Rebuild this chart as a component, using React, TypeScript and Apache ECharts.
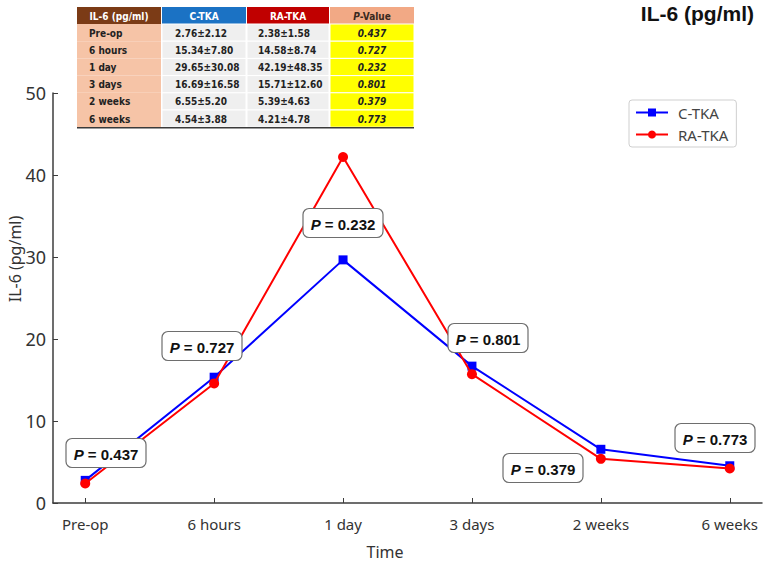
import React, { useEffect, useRef } from "react";
import * as echarts from "echarts";

// IL-6 (pg/ml) over time, mean ± SD for each group
const timePoints = ["Pre-op", "6 hours", "1 day", "3 days", "2 weeks", "6 weeks"];
const cTkaMean = [2.76, 15.34, 29.65, 16.69, 6.55, 4.54];
const cTkaSd = [2.12, 7.8, 30.08, 16.58, 5.2, 3.88];
const raTkaMean = [2.38, 14.58, 42.19, 15.71, 5.39, 4.21];
const raTkaSd = [1.58, 8.74, 48.35, 12.6, 4.63, 4.78];
const pValues = ["0.437", "0.727", "0.232", "0.801", "0.379", "0.773"];
const tableHeaders = ["IL-6 (pg/ml)", "C-TKA", "RA-TKA", "P-Value"];

// Placement of the P-value call-outs (pixel centres)
const pBoxCenters: [number, number][] = [
  [106, 453],
  [202, 346],
  [343, 223],
  [488, 338],
  [543, 468],
  [715, 438],
];

const fmt = (m: number, s: number) => `${m.toFixed(2)}±${s.toFixed(2)}`;

function buildTable(): any[] {
  const colX = [77, 162, 247, 330];
  const colW = [84, 84, 82, 84];
  const headerTop = 7;
  const headerH = 17;
  const rowTop = 24;
  const rowH = 17.2;
  const headerFill = ["#7b3b16", "#1b72c4", "#c00000", "#f2a985"];
  const bodyFill = ["#f6c4a7", "#efefef", "#efefef", "#ffff00"];
  const font = "DejaVu Sans Condensed";
  const els: any[] = [];

  // header row
  tableHeaders.forEach((h, c) => {
    els.push({
      type: "rect",
      z: 50,
      shape: { x: colX[c], y: headerTop, width: colW[c], height: headerH },
      style: { fill: headerFill[c] },
    });
    const isP = c === 3;
    els.push({
      type: "text",
      z: 51,
      x: colX[c] + colW[c] / 2,
      y: headerTop + headerH / 2 + 0.5,
      style: isP
        ? {
            text: "{i|P}-Value",
            rich: {
              i: { fontStyle: "italic", fontWeight: "bold", fontFamily: font, fontSize: 10, fill: "#3a2a20" },
            },
            fontFamily: font,
            fontWeight: "bold",
            fontSize: 10,
            fill: "#3a2a20",
            align: "center",
            verticalAlign: "middle",
          }
        : {
            text: h,
            fontFamily: font,
            fontWeight: "bold",
            fontSize: 10,
            fill: "#ffffff",
            align: "center",
            verticalAlign: "middle",
          },
    });
  });

  // body rows
  timePoints.forEach((t, r) => {
    const y = rowTop + r * rowH;
    for (let c = 0; c < 4; c++) {
      els.push({
        type: "rect",
        z: 50,
        shape: { x: colX[c], y, width: colW[c], height: rowH },
        style: { fill: bodyFill[c], stroke: c === 0 ? bodyFill[0] : "#ffffff", lineWidth: c === 0 ? 0 : 1 },
      });
    }
    const cy = y + rowH / 2 + 0.5;
    const base = { fontFamily: font, fontWeight: "bold", fontSize: 10, fill: "#222", verticalAlign: "middle" };
    els.push({ type: "text", z: 51, x: colX[0] + 12, y: cy, style: { ...base, text: t, align: "left" } });
    els.push({ type: "text", z: 51, x: colX[1] + 13, y: cy, style: { ...base, text: fmt(cTkaMean[r], cTkaSd[r]), align: "left" } });
    els.push({ type: "text", z: 51, x: colX[2] + 11, y: cy, style: { ...base, text: fmt(raTkaMean[r], raTkaSd[r]), align: "left" } });
    els.push({
      type: "text",
      z: 51,
      x: colX[3] + colW[3] / 2,
      y: cy,
      style: { ...base, text: pValues[r], fontStyle: "italic", align: "center" },
    });
  });

  // bottom rule
  const bottom = rowTop + timePoints.length * rowH + 0.5;
  els.push({
    type: "line",
    z: 52,
    shape: { x1: colX[0], y1: bottom, x2: colX[3] + colW[3], y2: bottom },
    style: { stroke: "#3a3a3a", lineWidth: 1.5 },
  });
  return els;
}

function buildPBoxes(): any[] {
  const w = 80;
  const h = 29;
  const els: any[] = [];
  pValues.forEach((p, i) => {
    const [cx, cy] = pBoxCenters[i];
    els.push({
      type: "rect",
      z: 100,
      shape: { x: cx - w / 2, y: cy - h / 2, width: w, height: h, r: 6 },
      style: { fill: "#ffffff", stroke: "#6e6e6e", lineWidth: 1.2 },
    });
    els.push({
      type: "text",
      z: 101,
      x: cx,
      y: cy + 1,
      style: {
        text: `{i|P} = ${p}`,
        rich: {
          i: { fontStyle: "italic", fontWeight: "bold", fontFamily: "Liberation Sans", fontSize: 15, fill: "#111" },
        },
        fontFamily: "Liberation Sans",
        fontWeight: "bold",
        fontSize: 15,
        fill: "#111",
        align: "center",
        verticalAlign: "middle",
      },
    });
  });
  return els;
}

export default function App() {
  const ref = useRef<HTMLDivElement>(null);

  useEffect(() => {
    if (!ref.current) return;
    const chart = echarts.init(ref.current, null, { renderer: "svg" });
    const axisColor = "#3c3c3c";
    const tickFont = "Noto Sans";

    chart.setOption({
      animation: false,
      backgroundColor: "#ffffff",
      grid: { left: 53, right: 5, top: 93, bottom: 63, containLabel: false },
      legend: {
        orient: "vertical",
        left: 629,
        top: 100,
        width: 108,
        padding: [5, 8, 5, 6],
        itemGap: 7,
        itemWidth: 32,
        itemHeight: 10,
        borderColor: "#cfcfcf",
        borderWidth: 1,
        borderRadius: 3,
        backgroundColor: "#ffffff",
        textStyle: { fontFamily: tickFont, fontSize: 15, color: "#444", padding: [0, 0, 0, 5] },
        data: ["C-TKA", "RA-TKA"],
      },
      xAxis: {
        type: "value",
        min: -0.25,
        max: 5.25,
        splitLine: { show: false },
        axisLine: { show: true, onZero: false, lineStyle: { color: axisColor, width: 1.5 } },
        axisTick: {
          show: true,
          inside: true,
          length: 5,
          customValues: timePoints.map((_, i) => i),
          lineStyle: { color: axisColor, width: 1 },
        },
        axisLabel: {
          customValues: timePoints.map((_, i) => i),
          formatter: (v: number) => timePoints[Math.round(v)] ?? "",
          fontFamily: tickFont,
          fontSize: 15,
          color: "#333",
          margin: 13,
        },
      },
      yAxis: {
        type: "value",
        min: 0,
        max: 50,
        interval: 10,
        splitLine: { show: false },
        axisLine: { show: true, onZero: false, lineStyle: { color: axisColor, width: 1.5 } },
        axisTick: { show: true, inside: true, length: 5, lineStyle: { color: axisColor, width: 1 } },
        axisLabel: {
          fontFamily: tickFont,
          fontSize: 18,
          color: "#333",
          margin: 7,
        },
      },
      series: [
        {
          name: "C-TKA",
          type: "line",
          data: cTkaMean.map((v, i) => [i, v]),
          symbol: "rect",
          symbolSize: 9,
          itemStyle: { color: "#0000ff" },
          lineStyle: { color: "#0000ff", width: 2 },
          z: 3,
        },
        {
          name: "RA-TKA",
          type: "line",
          data: raTkaMean.map((v, i) => [i, v]),
          symbol: "circle",
          symbolSize: 10,
          itemStyle: { color: "#ff0000" },
          lineStyle: { color: "#ff0000", width: 2 },
          z: 4,
        },
      ],
      graphic: [
        ...buildTable(),
        ...buildPBoxes(),
        {
          type: "text",
          right: 13,
          top: 3,
          style: {
            text: "IL-6 (pg/ml)",
            fontFamily: "Liberation Sans",
            fontWeight: "bold",
            fontSize: 21,
            fill: "#111",
          },
        },
        {
          type: "text",
          x: 15,
          y: 259,
          rotation: Math.PI / 2,
          style: {
            text: "IL-6 (pg/ml)",
            fontFamily: tickFont,
            fontSize: 16,
            fill: "#333",
            align: "center",
            verticalAlign: "middle",
          },
        },
        {
          type: "text",
          x: 385,
          y: 552,
          style: {
            text: "Time",
            fontFamily: tickFont,
            fontSize: 16,
            fill: "#333",
            align: "center",
            verticalAlign: "middle",
          },
        },
      ],
    });

    return () => chart.dispose();
  }, []);

  return (
    <div
      ref={ref}
      style={{ position: "absolute", left: 0, top: 0, width: 767, height: 566 }}
    />
  );
}
